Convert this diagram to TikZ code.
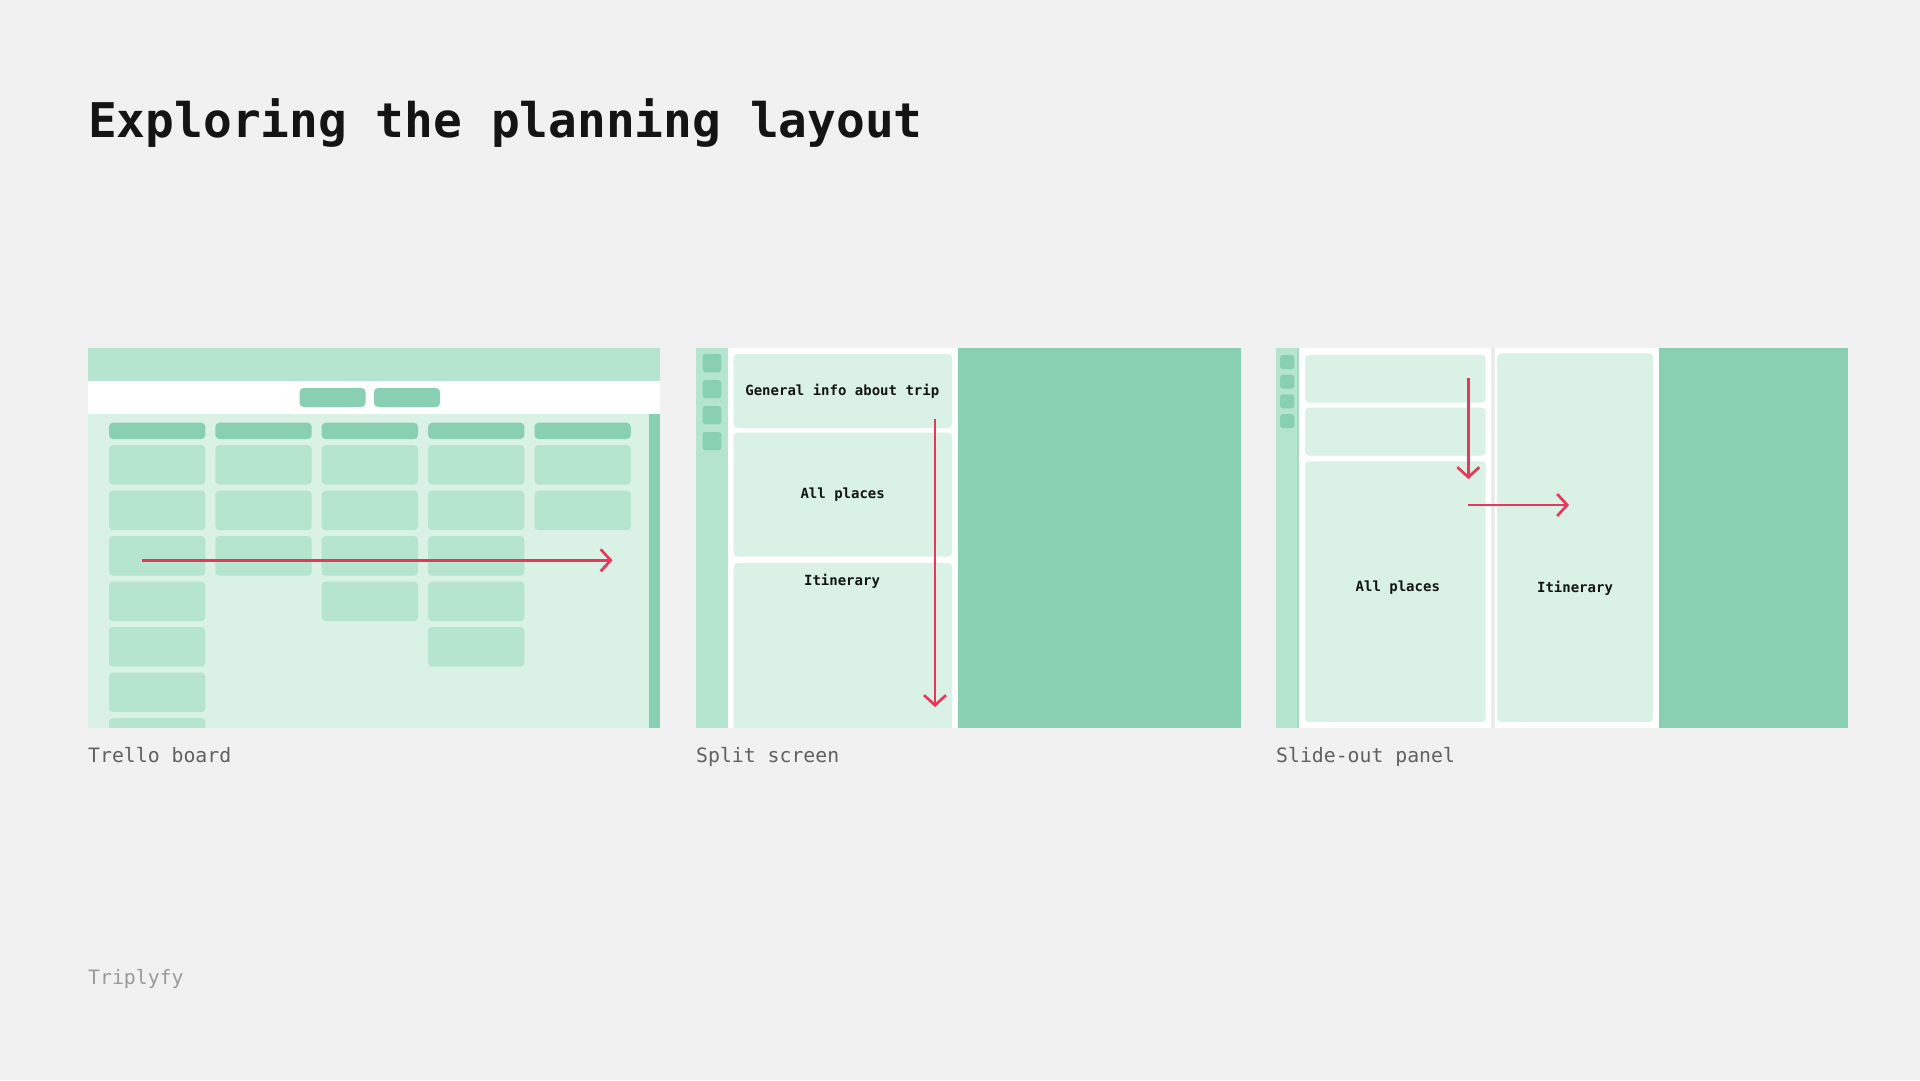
\documentclass[tikz,border=0pt]{standalone}
\usepackage{fontspec}
\setmonofont{DejaVu Sans Mono}
\usetikzlibrary{arrows.meta}
\definecolor{bgc}{HTML}{F1F1F1}
\definecolor{lgc}{HTML}{B6E5CF}
\definecolor{vlgc}{HTML}{DAF1E5}
\definecolor{dgc}{HTML}{89CFB2}
\definecolor{edgec}{HTML}{A6DAC2}
\definecolor{shadc}{HTML}{EAECEB}
\definecolor{arrowred}{HTML}{E8385A}
\definecolor{titlec}{HTML}{141414}
\definecolor{capc}{HTML}{606060}
\definecolor{brandc}{HTML}{9A9A9A}
\begin{document}
\begin{tikzpicture}[x=1pt,y=-1pt,
  redarrow/.style={draw=arrowred, line width=2.7pt, -{Straight Barb[length=10pt,width=22pt]}},
  cardbox/.style={fill=lgc, rounded corners=4pt},
  headbox/.style={fill=dgc, rounded corners=4pt},
  iconbox/.style={fill=dgc, rounded corners=3pt},
  panelcard/.style={fill=vlgc, rounded corners=4pt},
  lbl/.style={inner sep=0pt, font=\ttfamily\bfseries\fontsize{14}{16}\selectfont, text=titlec},
  caption/.style={anchor=base west, inner sep=0pt, font=\ttfamily\fontsize{19.8}{22}\selectfont, text=capc}]
\fill[bgc] (0,0) rectangle (1920,1080);
\useasboundingbox (0,0) rectangle (1920,1080);

% Title
\node[anchor=base west, inner sep=0pt, font=\ttfamily\bfseries\fontsize{47.8}{52}\selectfont, text=titlec] (title) at (88,137) {Exploring the planning layout};

% ---------- Panel 1: Trello board ----------
\begin{scope}
\clip (88,348) rectangle (660,727.5);
\fill[lgc] (88,348) rectangle (660,381);
\fill[white] (88,381) rectangle (660,414);
\fill[vlgc] (88,414) rectangle (649,727.5);
\fill[dgc] (649,414) rectangle (660,727.5);
\fill[headbox] (299.5,388) rectangle (365.5,407);
\fill[headbox] (374,388) rectangle (440,407);
\foreach \cx/\n in {109/7, 215.4/3, 321.7/4, 428.1/5, 534.5/2} {
  \fill[headbox] (\cx,422.7) rectangle ++(96.3,16.3);
  \foreach \k in {1,...,\n} {
    \fill[cardbox] (\cx,{445+(\k-1)*45.5}) rectangle ++(96.3,39.7);
  }
}
\end{scope}
\coordinate (a1s) at (142,560.3);
\coordinate (a1e) at (612.5,560.3);
\draw[redarrow] (a1s) -- (a1e);
\node[caption] (cap1) at (88,762.3) {Trello board};

% ---------- Panel 2: Split screen ----------
\begin{scope}
\clip (696,348) rectangle (1241,727.5);
\fill[lgc] (696,348) rectangle (727.5,727.5);
\fill[white] (727.5,348) rectangle (958,727.5);
\fill[dgc] (958,348) rectangle (1241,727.5);
\foreach \k in {0,1,2,3} {
  \fill[iconbox] (702.5,{354+\k*26}) rectangle ++(18.9,18.3);
}
\fill[panelcard] (733.6,354) rectangle (952.1,428);
\fill[panelcard] (733.6,432.5) rectangle (952.1,556.5);
\fill[panelcard] (733.6,563) rectangle (952.1,740);
\end{scope}
\node[lbl] (gen) at (842.3,391) {General info about trip};
\node[lbl] (allp2) at (842.7,494.5) {All places};
\node[lbl] (itin2) at (842,581) {Itinerary};
\coordinate (a2s) at (935,419);
\coordinate (a2e) at (935,707);
\draw[redarrow] (a2s) -- (a2e);
\node[caption] (cap2) at (696,762.3) {Split screen};

% ---------- Panel 3: Slide-out panel ----------
\begin{scope}
\clip (1276,348) rectangle (1848,727.5);
\fill[lgc] (1276,348) rectangle (1299.2,727.5);
\fill[edgec] (1296.7,348) rectangle (1299.2,727.5);
\fill[white] (1299.2,348) rectangle (1491,727.5);
\fill[shadc] (1491,348) rectangle (1494.6,727.5);
\fill[white] (1494.6,348) rectangle (1658.8,727.5);
\fill[dgc] (1658.8,348) rectangle (1848,727.5);
\foreach \k in {0,1,2,3} {
  \fill[iconbox] (1280,{355+\k*19.7}) rectangle ++(14.4,14);
}
\fill[panelcard] (1305,355) rectangle (1485.7,402.7);
\fill[panelcard] (1305,407.7) rectangle (1485.7,455.7);
\fill[panelcard] (1305,461.3) rectangle (1485.7,722);
\fill[panelcard] (1497.2,353.3) rectangle (1652.9,722);
\end{scope}
\node[lbl] (allp3) at (1397.8,588) {All places};
\node[lbl] (itin3) at (1575,588) {Itinerary};
\coordinate (a3s) at (1468.3,378.3);
\coordinate (a3e) at (1468.3,479);
\draw[redarrow] (a3s) -- (a3e);
\coordinate (a4s) at (1468.3,505);
\coordinate (a4e) at (1569,505);
\draw[redarrow] (a4s) -- (a4e);
\node[caption] (cap3) at (1276,762.3) {Slide-out panel};

% Brand
\node[caption, text=brandc] (brand) at (88,984.3) {Triplyfy};
\end{tikzpicture}
\end{document}
